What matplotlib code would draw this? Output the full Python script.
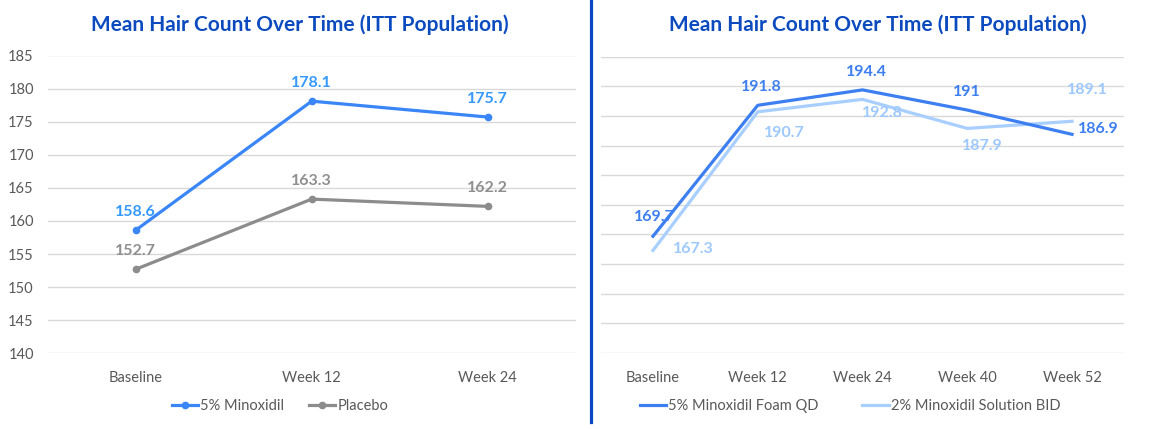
import matplotlib

matplotlib.use("Agg")
import matplotlib.pyplot as plt
from matplotlib.lines import Line2D

plt.rcParams["font.family"] = ["Lato", "DejaVu Sans"]

TITLE = "Mean Hair Count Over Time (ITT Population)"

# left panel: 24-week study
left_weeks = ["Baseline", "Week 12", "Week 24"]
left_minox = [158.6, 178.1, 175.7]
left_placebo = [152.7, 163.3, 162.2]
left_yticks = [140, 145, 150, 155, 160, 165, 170, 175, 180, 185]

# right panel: 52-week foam vs solution
right_weeks = ["Baseline", "Week 12", "Week 24", "Week 40", "Week 52"]
right_foam = [169.7, 191.8, 194.4, 191.0, 186.9]
right_solution = [167.3, 190.7, 192.8, 187.9, 189.1]
right_labels_foam = ["169.7", "191.8", "194.4", "191", "186.9"]
right_labels_solution = ["167.3", "190.7", "192.8", "187.9", "189.1"]
right_yticks = [150, 155, 160, 165, 170, 175, 180, 185, 190, 195, 200]

# label offsets (px) as placed in the source chart
foam_off = [(1, 19), (4, 18), (4, 18), (0, 18), (26, 5)]
sol_off = [(40, 1), (27, -21), (20, -14), (15, -18), (15, 31)]

W, H = 1162, 429
GRID = "#d9d9d9"
TICK = "#595959"
BLUE = "#3a86f7"
BLUE_TXT = "#3399ff"
GREY = "#8c8c8c"
GREY_TXT = "#8f8f8f"
DARK = "#3d7ff0"
LIGHT = "#a8cfff"
LIGHT_TXT = "#9dc9ff"
TITLE_C = "#0b4bbf"
PX = 0.72  # points per pixel at dpi 100


def box(x0, x1, ytop, ybot):
    return [x0 / W, 1 - ybot / H, (x1 - x0) / W, (ybot - ytop) / H]


def style(ax, yticks, xlabels, show_y):
    ax.set_ylim(yticks[0], yticks[-1])
    ax.set_yticks(yticks)
    ax.set_xlim(-0.5, len(xlabels) - 0.5)
    ax.set_xticks(range(len(xlabels)))
    ax.set_xticklabels(xlabels)
    for s in ax.spines.values():
        s.set_visible(False)
    ax.grid(axis="y", color=GRID, lw=1.0)
    ax.set_axisbelow(True)
    ax.tick_params(length=0, labelsize=10.5, labelcolor=TICK)
    ax.tick_params(axis="x", pad=13)
    ax.tick_params(axis="y", pad=10, labelleft=show_y)


fig = plt.figure(figsize=(W / 100, H / 100), dpi=100)

# ---- left panel
axl = fig.add_axes(box(47.7, 575.7, 55.5, 353.3))
style(axl, left_yticks, left_weeks, True)
xl = range(len(left_weeks))
axl.plot(xl, left_minox, color=BLUE, lw=2.3, marker="o", ms=4.5,
         label="5% Minoxidil", zorder=3)
axl.plot(xl, left_placebo, color=GREY, lw=2.3, marker="o", ms=4.5,
         label="Placebo", zorder=3)
for x, v in zip(xl, left_minox):
    axl.annotate(f"{v:.1f}", (x, v), xytext=(0, 18 * PX), textcoords="offset points",
                 ha="center", va="center", fontsize=11.5, fontweight="bold",
                 color=BLUE_TXT)
for x, v in zip(xl, left_placebo):
    axl.annotate(f"{v:.1f}", (x, v), xytext=(0, 18 * PX), textcoords="offset points",
                 ha="center", va="center", fontsize=11.5, fontweight="bold",
                 color=GREY_TXT)
axl.legend(loc="center", bbox_to_anchor=(280 / W, 1 - 406 / H),
           bbox_transform=fig.transFigure, ncol=2, frameon=False,
           fontsize=10.5, handlelength=1.8, handletextpad=0.15,
           columnspacing=1.7, labelcolor=TICK)

# ---- right panel
axr = fig.add_axes(box(600.6, 1124.4, 56.7, 353.0))
style(axr, right_yticks, right_weeks, False)
xr = range(len(right_weeks))
axr.plot(xr, right_foam, color=DARK, lw=2.3, label="5% Minoxidil Foam QD", zorder=3)
axr.plot(xr, right_solution, color=LIGHT, lw=2.3,
         label="2% Minoxidil Solution BID", zorder=2)
for x, v, t, (dx, dy) in zip(xr, right_foam, right_labels_foam, foam_off):
    axr.annotate(t, (x, v), xytext=(dx * PX, dy * PX), textcoords="offset points",
                 ha="center", va="center", fontsize=11.5, fontweight="bold",
                 color=DARK)
for x, v, t, (dx, dy) in zip(xr, right_solution, right_labels_solution, sol_off):
    axr.annotate(t, (x, v), xytext=(dx * PX, dy * PX), textcoords="offset points",
                 ha="center", va="center", fontsize=11.5, fontweight="bold",
                 color=LIGHT_TXT)
axr.legend(loc="center", bbox_to_anchor=(850 / W, 1 - 406 / H),
           bbox_transform=fig.transFigure, ncol=2, frameon=False,
           fontsize=10.5, handlelength=1.8, handletextpad=0.15,
           columnspacing=3.0, labelcolor=TICK)

# titles and separator
fig.text(300 / W, 1 - 25 / H, TITLE, ha="center", va="center", fontsize=15,
         fontweight="bold", color=TITLE_C)
fig.text(878 / W, 1 - 25 / H, TITLE, ha="center", va="center", fontsize=15,
         fontweight="bold", color=TITLE_C)
fig.add_artist(Line2D([590.7 / W, 590.7 / W], [1 - 422 / H, 1.0],
                      color="#0a47c2", lw=2.3, transform=fig.transFigure))

fig.savefig("out.png", dpi=100)
